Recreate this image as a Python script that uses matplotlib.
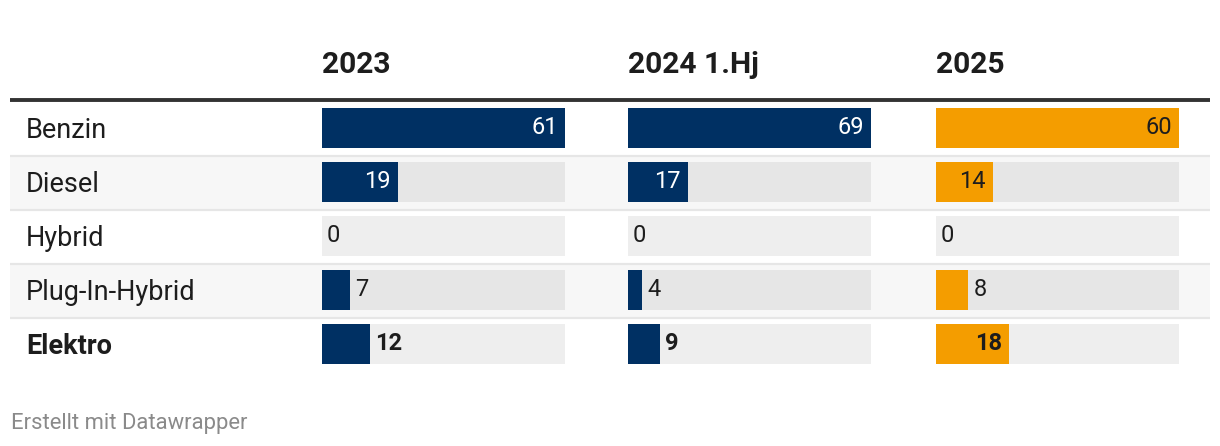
import matplotlib.pyplot as plt
import numpy as np

# data
categories = ["Benzin", "Diesel", "Hybrid", "Plug-In-Hybrid", "Elektro"]
periods = ["2023", "2024 1.Hj", "2025"]
values_2023 = [61, 19, 0, 7, 12]
values_2024 = [69, 17, 0, 4, 9]
values_2025 = [60, 14, 0, 8, 18]
source = "Erstellt mit Datawrapper"

plt.rcParams['font.family'] = ['Roboto', 'DejaVu Sans']

W, H = 1220, 446
fig = plt.figure(figsize=(W / 100, H / 100), dpi=100)

# background axes in pixel coordinates
bg = fig.add_axes([0, 0, 1, 1])
bg.set_xlim(0, W)
bg.set_ylim(H, 0)
bg.axis('off')

row_top = 102
row_h = 54
n = len(categories)

for i, cat in enumerate(categories):
    top = row_top + i * row_h
    if i % 2 == 1:
        bg.add_patch(plt.Rectangle((10, top), 1200, row_h, color='#f7f7f7', lw=0, zorder=0))
    if i > 0:
        bg.plot([10, 1210], [top, top], color='#e6e6e6', lw=1.6, solid_capstyle='butt', zorder=1)
    bold = cat == "Elektro"
    bg.text(26, top + row_h / 2 + 1, cat, fontsize=19.5, color='#1d1d1d',
            fontweight='bold' if bold else 'normal', va='center', ha='left')

bg.plot([10, 1210], [100, 100], color='#333333', lw=2.8, solid_capstyle='butt', zorder=2)
bg.text(11, 423, source, fontsize=15.8, color='#8a8a8a', va='center', ha='left')

col_x = [322, 628, 936]
col_w = 243
series = [values_2023, values_2024, values_2025]
colors = ['#003063', '#003063', '#f49d00']
inside_text = ['white', 'white', '#1d1d1d']

for period, x0, vals, c, tc in zip(periods, col_x, series, colors, inside_text):
    bg.text(x0, 65, period, fontsize=21.6, fontweight='bold', color='#1d1d1d',
            va='center', ha='left')
    ax = fig.add_axes([x0 / W, 1 - (row_top + n * row_h) / H, col_w / W, n * row_h / H])
    ax.set_facecolor('none')
    ax.axis('off')
    vmax = max(vals)
    y = np.arange(n)
    track = ['#e6e6e6' if i % 2 == 1 else '#eeeeee' for i in range(n)]
    ax.barh(y, [vmax] * n, height=40 / 54, color=track, lw=0)
    ax.barh(y, vals, height=40 / 54, color=c, lw=0)
    ax.set_xlim(0, vmax)
    ax.set_ylim(n - 0.5 + 1 / 54, -0.5 + 1 / 54)
    px = vmax / col_w
    for i, v in enumerate(vals):
        bold = categories[i] == "Elektro"
        fw = 'bold' if bold else 'normal'
        if v / px > 50:
            ax.text(v - 7 * px, i, str(v), color=tc, fontsize=17, fontweight=fw,
                    ha='right', va='center')
        else:
            ax.text(v + 5 * px, i, str(v), color='#1d1d1d', fontsize=17, fontweight=fw,
                    ha='left', va='center')

fig.savefig('out.png', dpi=100)
